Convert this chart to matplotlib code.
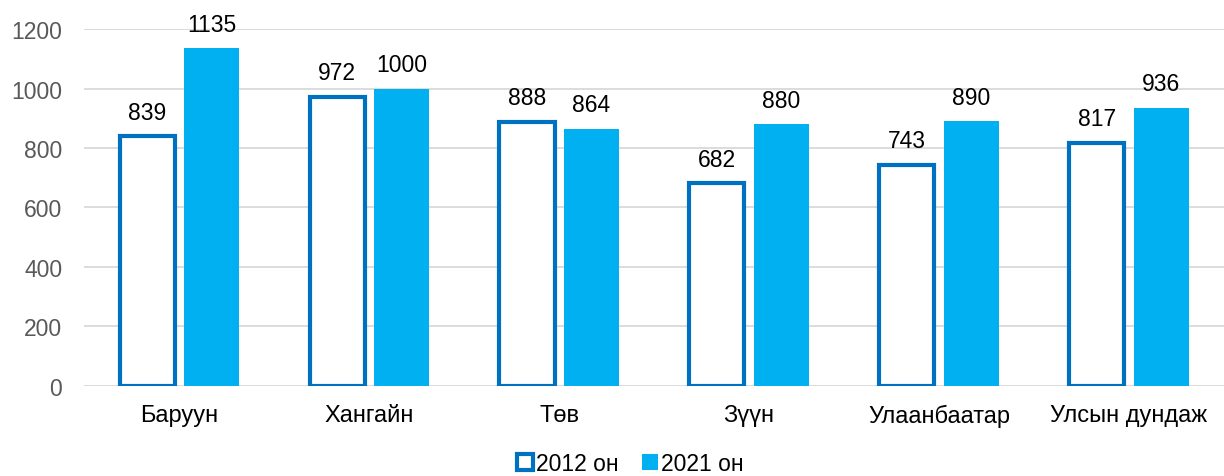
import matplotlib.pyplot as plt
import matplotlib.patches as mpatches
import numpy as np

plt.rcParams["font.family"] = ["Liberation Sans", "DejaVu Sans"]

categories = ["Баруун", "Хангайн", "Төв", "Зүүн", "Улаанбаатар", "Улсын дундаж"]
values_2012 = [839, 972, 888, 682, 743, 817]
values_2021 = [1135, 1000, 864, 880, 890, 936]
series_labels = ["2012 он", "2021 он"]

EDGE_BLUE = "#0070C0"
FILL_BLUE = "#00B0F0"
GRID = "#D9D9D9"
FS = 16.5

fig = plt.figure(figsize=(12.24, 4.77), dpi=100)
ax = fig.add_axes([0.069, 0.189, 0.931, 0.748])

x = np.arange(len(categories))
w = 0.29
off = 0.17

b1 = ax.bar(x - off, values_2012, w, facecolor="white", edgecolor=EDGE_BLUE,
            linewidth=3, zorder=3)
b2 = ax.bar(x + off, values_2021, w, facecolor=FILL_BLUE, edgecolor="none", zorder=3)

for bars in (b1, b2):
    for rect in bars:
        h = rect.get_height()
        ax.annotate(f"{h:.0f}", (rect.get_x() + rect.get_width() / 2, h),
                    xytext=(0, 9), textcoords="offset points",
                    ha="center", va="bottom", fontsize=FS, color="black")

ax.set_xlim(-0.5, len(categories) - 0.5)
ax.set_ylim(0, 1200)
ax.set_yticks(range(0, 1201, 200))
ax.set_xticks(x)
ax.set_xticklabels(categories)
ax.yaxis.grid(True, color=GRID, linewidth=1.3, zorder=0)
ax.set_axisbelow(True)
for s in ax.spines.values():
    s.set_visible(False)
ax.tick_params(axis="y", length=0, pad=16, labelsize=FS, labelcolor="#595959")
ax.tick_params(axis="x", length=0, pad=13, labelsize=17, labelcolor="black")

handles = [
    mpatches.Patch(facecolor="white", edgecolor=EDGE_BLUE, linewidth=3),
    mpatches.Patch(facecolor=FILL_BLUE, edgecolor="none"),
]
fig.legend(handles, series_labels, loc="center", bbox_to_anchor=(0.515, 0.027),
           ncol=2, frameon=False, fontsize=16.5, handlelength=0.7, handleheight=0.7,
           handletextpad=0.15, columnspacing=1.0, borderpad=0)

fig.savefig("out.png", dpi=100)
